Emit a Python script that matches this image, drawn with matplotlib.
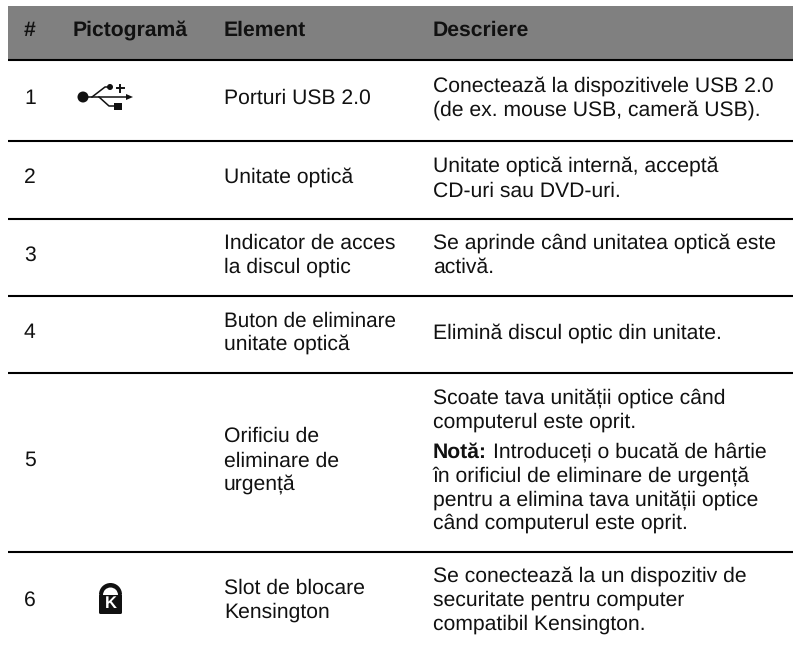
import matplotlib
matplotlib.use("Agg")
import matplotlib.pyplot as plt
from matplotlib.patches import Rectangle, Circle, Polygon, FancyBboxPatch, Wedge

plt.rcParams['font.family'] = ['Liberation Sans', 'DejaVu Sans']
plt.rcParams['text.hinting'] = 'none'

headers = ["#", "Pictogramă", "Element", "Descriere"]
numbers = ["1", "2", "3", "4", "5", "6"]
number_y = [104, 183, 261, 338, 466, 606]
elements = ["Porturi USB 2.0", "Unitate optică", "Indicator de acces", "la discul optic",
            "Buton de eliminare", "unitate optică", "Orificiu de", "eliminare de",
            "urgență", "Slot de blocare", "Kensington"]
element_y = [104, 183, 249, 273, 327, 350, 442, 467, 490, 594, 618]
descriptions = ["Conectează la dispozitivele USB 2.0", "(de ex. mouse USB, cameră USB).",
                "Unitate optică internă, acceptă", "CD-uri sau DVD-uri.",
                "Se aprinde când unitatea optică este", "activă.",
                "Elimină discul optic din unitate.",
                "Scoate tava unității optice când", "computerul este oprit.",
                "în orificiul de eliminare de urgență", "pentru a elimina tava unității optice",
                "când computerul este oprit.",
                "Se conectează la un dispozitiv de", "securitate pentru computer",
                "compatibil Kensington."]
description_y = [92, 116, 172, 197, 249, 273, 339, 404, 428, 482, 506, 529, 582, 606, 630]
note_head = "Notă:"
note_first = "Introduceți o bucată de hârtie"

row_lines = [60, 141, 219, 296, 373, 552]

fig = plt.figure(figsize=(7.93, 6.47), dpi=100)
ax = fig.add_axes([0, 0, 1, 1])
ax.set_xlim(0, 793)
ax.set_ylim(647, 0)
ax.axis("off")

ax.add_patch(Rectangle((8, 6), 785, 53, color="#808080", lw=0))
for y in row_lines:
    ax.plot([8, 793], [y, y], color="black", lw=1.5, solid_capstyle="butt")

fs = 15.2
k = "#111111"
hx = [24, 73, 224, 433]
for x, h in zip(hx, headers):
    ax.text(x, 36, h, fontsize=fs, fontweight="bold", va="baseline", color=k)

for n, y in zip(numbers, number_y):
    ax.text(24, y, n, fontsize=fs, va="baseline", color=k)
for e, y in zip(elements, element_y):
    # the "Buton de eliminare" line is set tighter in the original
    size = 14.9 if e.startswith("Buton") else fs
    ax.text(224, y, e, fontsize=size, va="baseline", color=k)
for d, y in zip(descriptions, description_y):
    ax.text(433, y, d, fontsize=fs, va="baseline", color=k)

ax.text(433, 458, note_head, fontsize=fs, fontweight="bold", va="baseline", color=k)
ax.text(493, 458, note_first, fontsize=fs, va="baseline", color=k)

# usb icon
ax.add_patch(Circle((83, 97), 5.5, color=k, lw=0))
ax.plot([83, 128], [97, 97], color=k, lw=1.1)
ax.plot([92, 105, 110], [97, 87, 87], color=k, lw=1.1)
ax.plot([99, 109, 115], [97, 106, 106], color=k, lw=1.1)
ax.add_patch(Circle((110, 87), 3, color=k, lw=0))
ax.add_patch(Rectangle((114, 103), 8, 6.5, color=k, lw=0))
ax.plot([116.5, 123.5], [88, 88], color=k, lw=1.4)
ax.plot([120, 120], [84.5, 91.5], color=k, lw=1.4)
ax.add_patch(Polygon([[126, 94], [133, 97], [126, 100]], color=k, lw=0))

# kensington lock
ax.add_patch(FancyBboxPatch((99, 594), 23, 20, boxstyle="round,pad=0,rounding_size=1.5", color=k, lw=0))
ax.add_patch(Wedge((110.5, 594.5), 11.5, 180, 360, color=k, lw=0))
ax.add_patch(Wedge((110.5, 595), 7.5, 180, 360, color="white", lw=0))
ax.text(110.5, 604, "K", fontsize=12, fontweight="bold", color="white", ha="center", va="center")

fig.savefig("out.png", dpi=100)
